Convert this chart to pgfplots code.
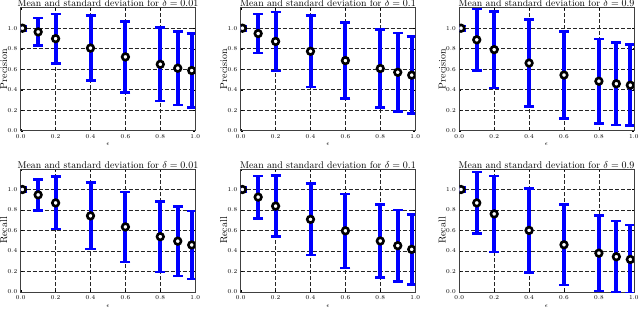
\documentclass[border=0pt]{standalone}
\usepackage{pgfplots}
\pgfplotsset{compat=1.18}
\usepackage{pgfplotstable}

% x  mean  std
\pgfplotstableread{
x y e
0.01 1.000 0.02
0.1 0.964 0.135
0.2 0.898 0.243
0.4 0.806 0.317
0.6 0.720 0.346
0.8 0.648 0.359
0.9 0.610 0.360
0.98 0.587 0.360
}\tabPa
\pgfplotstableread{
x y e
0.01 1.000 0.02
0.1 0.948 0.192
0.2 0.871 0.288
0.4 0.775 0.348
0.6 0.684 0.372
0.8 0.607 0.382
0.9 0.570 0.382
0.98 0.542 0.375
}\tabPb
\pgfplotstableread{
x y e
0.01 1.000 0.02
0.1 0.887 0.300
0.2 0.791 0.373
0.4 0.660 0.423
0.6 0.543 0.426
0.8 0.483 0.412
0.9 0.458 0.403
0.98 0.444 0.395
}\tabPc
\pgfplotstableread{
x y e
0.01 1.000 0.02
0.1 0.948 0.152
0.2 0.869 0.256
0.4 0.743 0.323
0.6 0.635 0.341
0.8 0.540 0.344
0.9 0.496 0.338
0.98 0.459 0.331
}\tabRa
\pgfplotstableread{
x y e
0.01 1.000 0.02
0.1 0.926 0.207
0.2 0.838 0.297
0.4 0.709 0.350
0.6 0.597 0.361
0.8 0.498 0.357
0.9 0.452 0.348
0.98 0.416 0.341
}\tabRb
\pgfplotstableread{
x y e
0.01 1.000 0.02
0.1 0.869 0.300
0.2 0.762 0.372
0.4 0.601 0.410
0.6 0.461 0.395
0.8 0.379 0.369
0.9 0.344 0.348
0.98 0.318 0.334
}\tabRc

\pgfplotsset{
 myax/.style={
  width=174.5pt, height=123pt, scale only axis,
  xmin=0, xmax=1, ymin=0, ymax=1.2,
  xtick={0,0.2,0.4,0.6,0.8,1.0},
  ytick={0,0.2,0.4,0.6,0.8,1.0},
  grid=major,
  major grid style={black!85, dash pattern=on 4pt off 2pt, line width=0.5pt},
  ticklabel style={font=\fontsize{6}{7}\selectfont},
  xticklabel style={/pgf/number format/.cd, fixed, fixed zerofill, precision=1},
  yticklabel style={/pgf/number format/.cd, fixed, fixed zerofill, precision=1},
  tick align=inside, major tick length=2pt,
  tick style={black, thin},
  axis line style={black!75, line width=0.6pt},
  every axis title shift=0pt,
  title style={font=\fontsize{9.8}{12}\selectfont, at={(axis description cs:0.5,1)}, anchor=base, yshift=0.8pt, inner sep=0pt},
  xlabel={$\epsilon$},
  xlabel style={font=\fontsize{6}{7}\selectfont, at={(axis description cs:0.5,0)}, anchor=center, yshift=-14pt},
  ylabel style={font=\fontsize{10}{12}\selectfont, at={(axis description cs:0,0.5)}, anchor=center, yshift=17pt},
  clip marker paths=true,
 },
 ebar/.style={draw=none, mark=none, forget plot,
  error bars/.cd, y dir=both, y explicit,
  error bar style={draw=blue, line width=4pt},
  error mark options={draw=blue, rotate=90, mark size=5pt, line width=2.5pt}},
 emean/.style={only marks, mark=*, mark size=3.3pt, mark options={draw=black, fill=white, line width=2.6pt}},
}

\newcommand{\panel}[5]{%
\begin{axis}[myax, at={#1}, anchor=south west,
  title={Mean and standard deviation for $\delta = #2$}, ylabel={#3}]
\addplot[ebar] table[x=x, y=y, y error=e] {#4};
\addplot[emean] table[x=x, y=y] {#4};
\end{axis}}

\begin{document}
\begin{tikzpicture}
\path[use as bounding box] (0pt,0pt) rectangle (640pt,-309pt);
\panel{(20.7pt,-130.7pt)}{0.01}{Precision}{\tabPa}{}
\panel{(240.7pt,-130.7pt)}{0.1}{Precision}{\tabPb}{}
\panel{(459.3pt,-130.7pt)}{0.9}{Precision}{\tabPc}{}
\panel{(20.7pt,-292pt)}{0.01}{Recall}{\tabRa}{}
\panel{(240.7pt,-292pt)}{0.1}{Recall}{\tabRb}{}
\panel{(459.3pt,-292pt)}{0.9}{Recall}{\tabRc}{}
\end{tikzpicture}
\end{document}
